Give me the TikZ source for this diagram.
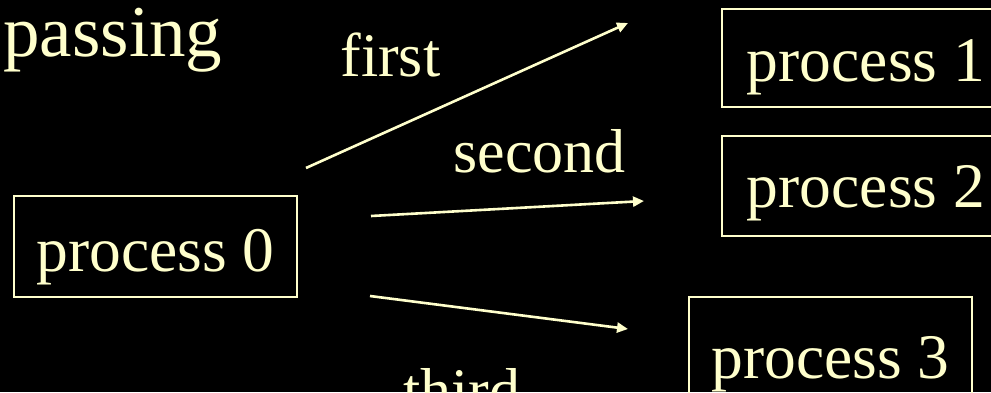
\documentclass[tikz,border=0pt]{standalone}
\usepackage{fontspec}
\setmainfont{Liberation Serif}
\usetikzlibrary{arrows.meta}
\definecolor{cream}{rgb}{1,1,0.8}
\tikzset{
  procbox/.style={draw=cream, line width=1pt, inner sep=0pt, text=cream,
    font=\fontsize{31.75pt}{36pt}\selectfont, text depth=0pt},
  lbl/.style={text=cream, inner sep=0pt, anchor=base west,
    font=\fontsize{31pt}{36pt}\selectfont},
  msg/.style={draw=cream, line width=1.3pt, -{Triangle[length=5.5pt,width=5pt]}}
}
\begin{document}
\begin{tikzpicture}[x=0.5pt,y=-0.5pt]
\useasboundingbox (0,0) rectangle (991,392);
\fill[black] (0,0) rectangle (991,392);
\clip (0,0) rectangle (991,392);
% title word
\node[text=cream, inner sep=0pt, anchor=base west,
  font=\fontsize{36.5pt}{40pt}\selectfont] (title) at (3,56) {passing};
% boxes
\node[procbox, minimum width=141.5pt, minimum height=50.5pt, text height=24.5pt] (p0) at (155.5,246.5) {process 0};
\node[procbox, minimum width=144pt, minimum height=49pt, text height=23pt] (p1) at (866,58) {process 1};
\node[procbox, minimum width=144pt, minimum height=50pt, text height=21pt] (p2) at (866,186) {process 2};
\node[procbox, minimum width=141.5pt, minimum height=50pt, text height=31.5pt] (p3) at (830.5,346.5) {process 3};
% arrow end points
\coordinate (a1s) at (306,168);
\coordinate (a1e) at (628,23);
\coordinate (a2s) at (371,216);
\coordinate (a2e) at (644,201);
\coordinate (a3s) at (370,296);
\coordinate (a3e) at (628,329);
\draw[msg] (a1s) -- (a1e);
\draw[msg] (a2s) -- (a2e);
\draw[msg] (a3s) -- (a3e);
% labels
\node[lbl] (l1) at (340,76) {first};
\node[lbl] (l2) at (453,172) {second};
\node[lbl] (l3) at (403,411) {third};
\end{tikzpicture}
\end{document}
